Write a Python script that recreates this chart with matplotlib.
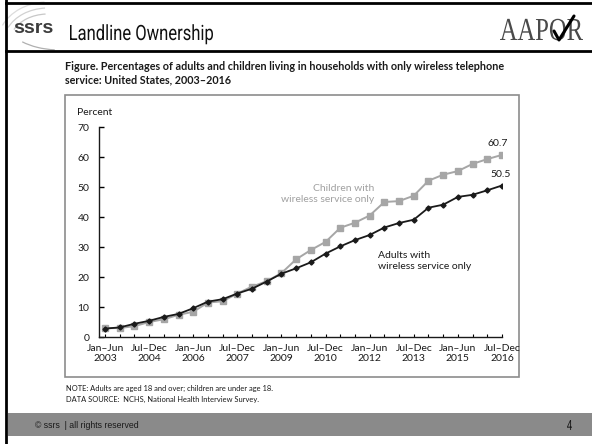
import matplotlib
matplotlib.use("Agg")
import matplotlib.pyplot as plt
from matplotlib.patches import Rectangle, Arc, PathPatch
from matplotlib.lines import Line2D
from matplotlib.textpath import TextPath
from matplotlib.font_manager import FontProperties
from matplotlib.transforms import Affine2D

# half-year periods, Jan-Jun 2003 .. Jul-Dec 2016
periods = [f"{h}\n{y}" for y in range(2003, 2017) for h in ("Jan–Jun", "Jul–Dec")]
adults = [2.8, 3.2, 4.4, 5.4, 6.7, 7.7, 9.6, 11.8, 12.6, 14.5, 16.1, 18.5, 21.1, 22.9,
          24.9, 27.8, 30.2, 32.3, 34.0, 36.5, 38.0, 39.1, 43.1, 44.1, 46.7, 47.4, 48.9, 50.5]
children = [2.9, 3.0, 3.6, 5.0, 5.9, 7.4, 8.4, 11.5, 11.9, 14.5, 16.8, 18.6, 21.3, 25.9,
            29.0, 31.7, 36.4, 38.1, 40.5, 45.0, 45.3, 47.1, 52.1, 54.1, 55.3, 57.7, 59.3, 60.7]
yticks = list(range(0, 71, 10))

W, H = 592, 444
TXT = "#1a1a1a"


def fitted_text(ax, s, x0, x1, ytop, ybase, prop, color):
    """Draw s as a path squeezed into [x0, x1] with cap height ytop..ybase (pixel axes, y down)."""
    tp = TextPath((0, 0), s, size=100, prop=prop)
    ext = tp.get_extents()
    cap = TextPath((0, 0), "H", size=100, prop=prop).get_extents().y1
    sx = (x1 - x0) / ext.width
    sy = (ybase - ytop) / cap
    tr = Affine2D().translate(-ext.x0, 0).scale(sx, -sy).translate(x0, ybase)
    ax.add_patch(PathPatch(tr.transform_path(tp), facecolor=color, edgecolor="none"))


fig = plt.figure(figsize=(W / 100, H / 100), dpi=100)
fig.patch.set_facecolor("white")

# slide frame drawn in pixel units
bg = fig.add_axes([0, 0, 1, 1])
bg.set_xlim(0, W)
bg.set_ylim(H, 0)
bg.axis("off")

bg.add_line(Line2D([6, W], [3, 3], color="black", lw=2))
bg.add_line(Line2D([6, 6], [0, H], color="black", lw=2))
bg.add_line(Line2D([6, W], [51, 51], color="black", lw=2))

# ssrs swoosh + wordmark
for r, a in [(40, 0.35), (34, 0.45), (28, 0.55)]:
    bg.add_patch(Arc((48, 42), 2 * r + 20, 2 * r, theta1=200, theta2=265,
                     color="#9a9a9a", lw=0.9, alpha=a))
bg.add_patch(Arc((60, 20), 110, 60, theta1=100, theta2=150, color="#b0b0b0", lw=0.9))
bg.text(13, 33, "ssrs", fontsize=14, fontweight="bold", color="#3c3c3c",
        family="Liberation Sans", va="baseline")
fitted_text(bg, "Landline Ownership", 70, 213, 25, 40,
            FontProperties(family="Roboto"), "#111111")

# AAPOR logo with the check through the O
fitted_text(bg, "AAPOR", 500, 583, 19, 40,
            FontProperties(family="Liberation Serif"), "#4a4a4a")
bg.add_line(Line2D([554, 559, 574], [31, 40, 16], color="black", lw=2.2,
                   solid_capstyle="round"))

# figure caption
bg.text(65, 67, "Figure. Percentages of adults and children living in households with only wireless telephone",
        fontsize=7.75, fontweight="bold", family="Lato", color=TXT, va="center")
bg.text(65, 80, "service: United States, 2003–2016",
        fontsize=7.75, fontweight="bold", family="Lato", color=TXT, va="center")

# chart frame
bg.add_patch(Rectangle((65, 95), 454, 282, fill=False, edgecolor="#8c8c8c", lw=1.2))

# notes
bg.text(66, 388, "NOTE: Adults are aged 18 and over; children are under age 18.",
        fontsize=5.4, family="Lato", color=TXT, va="center")
bg.text(66, 399, "DATA SOURCE:  NCHS, National Health Interview Survey.",
        fontsize=5.4, family="Lato", color=TXT, va="center")

# footer band
bg.add_patch(Rectangle((8, 413), W - 8, 23, facecolor="#8a8a8a", edgecolor="none"))
bg.text(35, 425, "© ssrs  | all rights reserved", fontsize=6.3, family="Liberation Sans",
        color=TXT, va="center")
fitted_text(bg, "4", 567, 572, 420, 430, FontProperties(family="Roboto"), TXT)

# main chart
ax = fig.add_axes([99 / W, 1 - 337 / H, (502 - 99) / W, (337 - 127) / H])
ax.set_facecolor("none")
x = list(range(len(periods)))
ax.plot(x, children, color="#a6a6a6", lw=1.4, marker="s", ms=4.2,
        markerfacecolor="#a6a6a6", markeredgecolor="#a6a6a6", zorder=2)
ax.plot(x, adults, color=TXT, lw=1.3, marker="D", ms=2.6,
        markerfacecolor=TXT, markeredgecolor=TXT, zorder=3)

ax.set_xlim(-0.41, len(periods) - 1)
ax.set_ylim(0, 70)
for s in ("top", "right"):
    ax.spines[s].set_visible(False)
for s in ("left", "bottom"):
    ax.spines[s].set_color(TXT)
    ax.spines[s].set_linewidth(1.0)

ax.set_yticks(yticks)
ax.set_yticklabels([str(v) for v in yticks], fontsize=7.5, family="Lato", color=TXT)
ax.tick_params(axis="y", direction="in", length=3.5, width=1.0, pad=7)
ax.set_xticks(x)
ax.set_xticklabels([p if i % 3 == 0 else "" for i, p in enumerate(periods)],
                   fontsize=7.5, family="Lato", color=TXT, linespacing=1.1)
ax.tick_params(axis="x", direction="in", length=2.5, width=0.8, pad=5)

ax.text(-0.41 - 22 / 14.7, 75, "Percent", fontsize=7.5, family="Lato", color=TXT,
        va="center", ha="left", clip_on=False)

ax.text(18.3, 47.7, "Children with\nwireless service only", fontsize=7.5, family="Lato",
        color="#a0a0a0", ha="right", va="center", multialignment="right", linespacing=1.3)
ax.text(18.55, 25.3, "Adults with\nwireless service only", fontsize=7.5, family="Lato",
        color=TXT, ha="left", va="center", linespacing=1.3)
ax.text(x[-1] - 0.3, children[-1] + 2.3, f"{children[-1]:.1f}", fontsize=7.5, family="Lato",
        color=TXT, ha="center", va="bottom", clip_on=False)
ax.text(x[-1] - 0.1, adults[-1] + 2.3, f"{adults[-1]:.1f}", fontsize=7.5, family="Lato",
        color=TXT, ha="center", va="bottom", clip_on=False)

fig.savefig("out.png", dpi=100)
